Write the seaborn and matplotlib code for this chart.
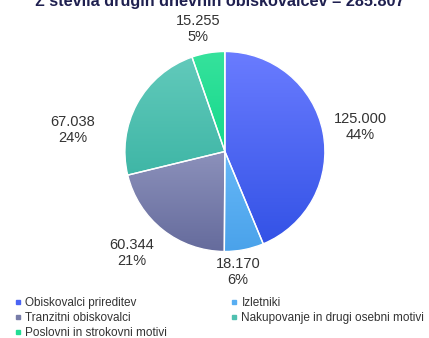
import numpy as np
import matplotlib
matplotlib.use('Agg')
import matplotlib.pyplot as plt
import seaborn as sns
from matplotlib.colors import LinearSegmentedColormap
from matplotlib.lines import Line2D

sns.set_style('white')
plt.rcParams['font.family'] = ['Liberation Sans', 'DejaVu Sans']

# =====================
# DATA
# =====================
categories = ['Obiskovalci prireditev', 'Izletniki', 'Tranzitni obiskovalci',
              'Nakupovanje in drugi osebni motivi', 'Poslovni in strokovni motivi']
values = [125000, 18170, 60344, 67038, 15255]
value_labels = ['125.000', '18.170', '60.344', '67.038', '15.255']
percent_labels = ['44%', '6%', '21%', '24%', '5%']
title_text = 'Σ števila drugih dnevnih obiskovalcev = 285.807'

# light (top) / dark (bottom) gradient colours per slice
top_colors = ['#6a7cff', '#66b8f8', '#8c91bb', '#62cabb', '#36e29c']
bottom_colors = ['#3352e6', '#4aa2ea', '#656b9c', '#3fb6a6', '#14d98c']
mid_colors = ['#4a64f4', '#58aef2', '#777ca8', '#4fc0b0', '#22dd94']

# label layout: distance from centre and angle shift (deg) from the slice middle
label_dist = [1.375, 1.215, 1.38, 1.54, 1.255]
label_shift = [-1, -5, -4.2, 20.5, 2.8]

# =====================
# FIGURE
# =====================
fig = plt.figure(figsize=(4.29, 3.38), dpi=100, facecolor='white')
ax = fig.add_axes([0.290, 0.2544, 0.4685, 0.5947])

wedges, _ = ax.pie(values, colors=mid_colors, startangle=90, counterclock=False,
                   wedgeprops=dict(edgecolor='white', linewidth=1.0))

# vertical gradient inside every slice
grad = np.linspace(0, 1, 256).reshape(-1, 1)
for w, c_top, c_bot in zip(wedges, top_colors, bottom_colors):
    cmap = LinearSegmentedColormap.from_list('g', [c_bot, c_top])
    th1, th2 = np.deg2rad(w.theta1), np.deg2rad(w.theta2)
    ang = np.linspace(th1, th2, 100)
    ys = np.concatenate([[0], np.sin(ang)])
    xs = np.concatenate([[0], np.cos(ang)])
    im = ax.imshow(grad, cmap=cmap, origin='lower', aspect='auto',
                   extent=[xs.min(), xs.max(), ys.min(), ys.max()], zorder=1.5)
    im.set_clip_path(w)
    w.set_zorder(2)
    w.set_facecolor('none')

# labels
for w, v, p, d, s in zip(wedges, value_labels, percent_labels, label_dist, label_shift):
    mid = np.deg2rad((w.theta1 + w.theta2) / 2 + s)
    ax.text(d * np.cos(mid), d * np.sin(mid), f'{v}\n{p}', ha='center', va='center',
            fontsize=10.5, color='#333333', linespacing=1.15, clip_on=False)

ax.set_xlim(-1.005, 1.005)
ax.set_ylim(-1.005, 1.005)
ax.axis('off')

# title (cut at the top edge as in the source)
fig.text(0.513, 0.982, title_text, ha='center', va='baseline', fontsize=11.7,
         fontweight='bold', color='#1f2050')

# legend, row-wise order
handles = [Line2D([], [], marker='s', linestyle='none', markersize=3.5,
                  markerfacecolor=c, markeredgecolor=c) for c in mid_colors]
order = [0, 2, 4, 1, 3]
fig.legend([handles[i] for i in order], [categories[i] for i in order],
           loc='upper left', bbox_to_anchor=(0.034, 0.122), ncol=2, frameon=False,
           fontsize=8.5, handlelength=0.6, handletextpad=0.3, columnspacing=5.4,
           labelspacing=0.28, borderaxespad=0, borderpad=0,
           labelcolor='#333333')

plt.savefig('out.png', dpi=100, facecolor='white')
